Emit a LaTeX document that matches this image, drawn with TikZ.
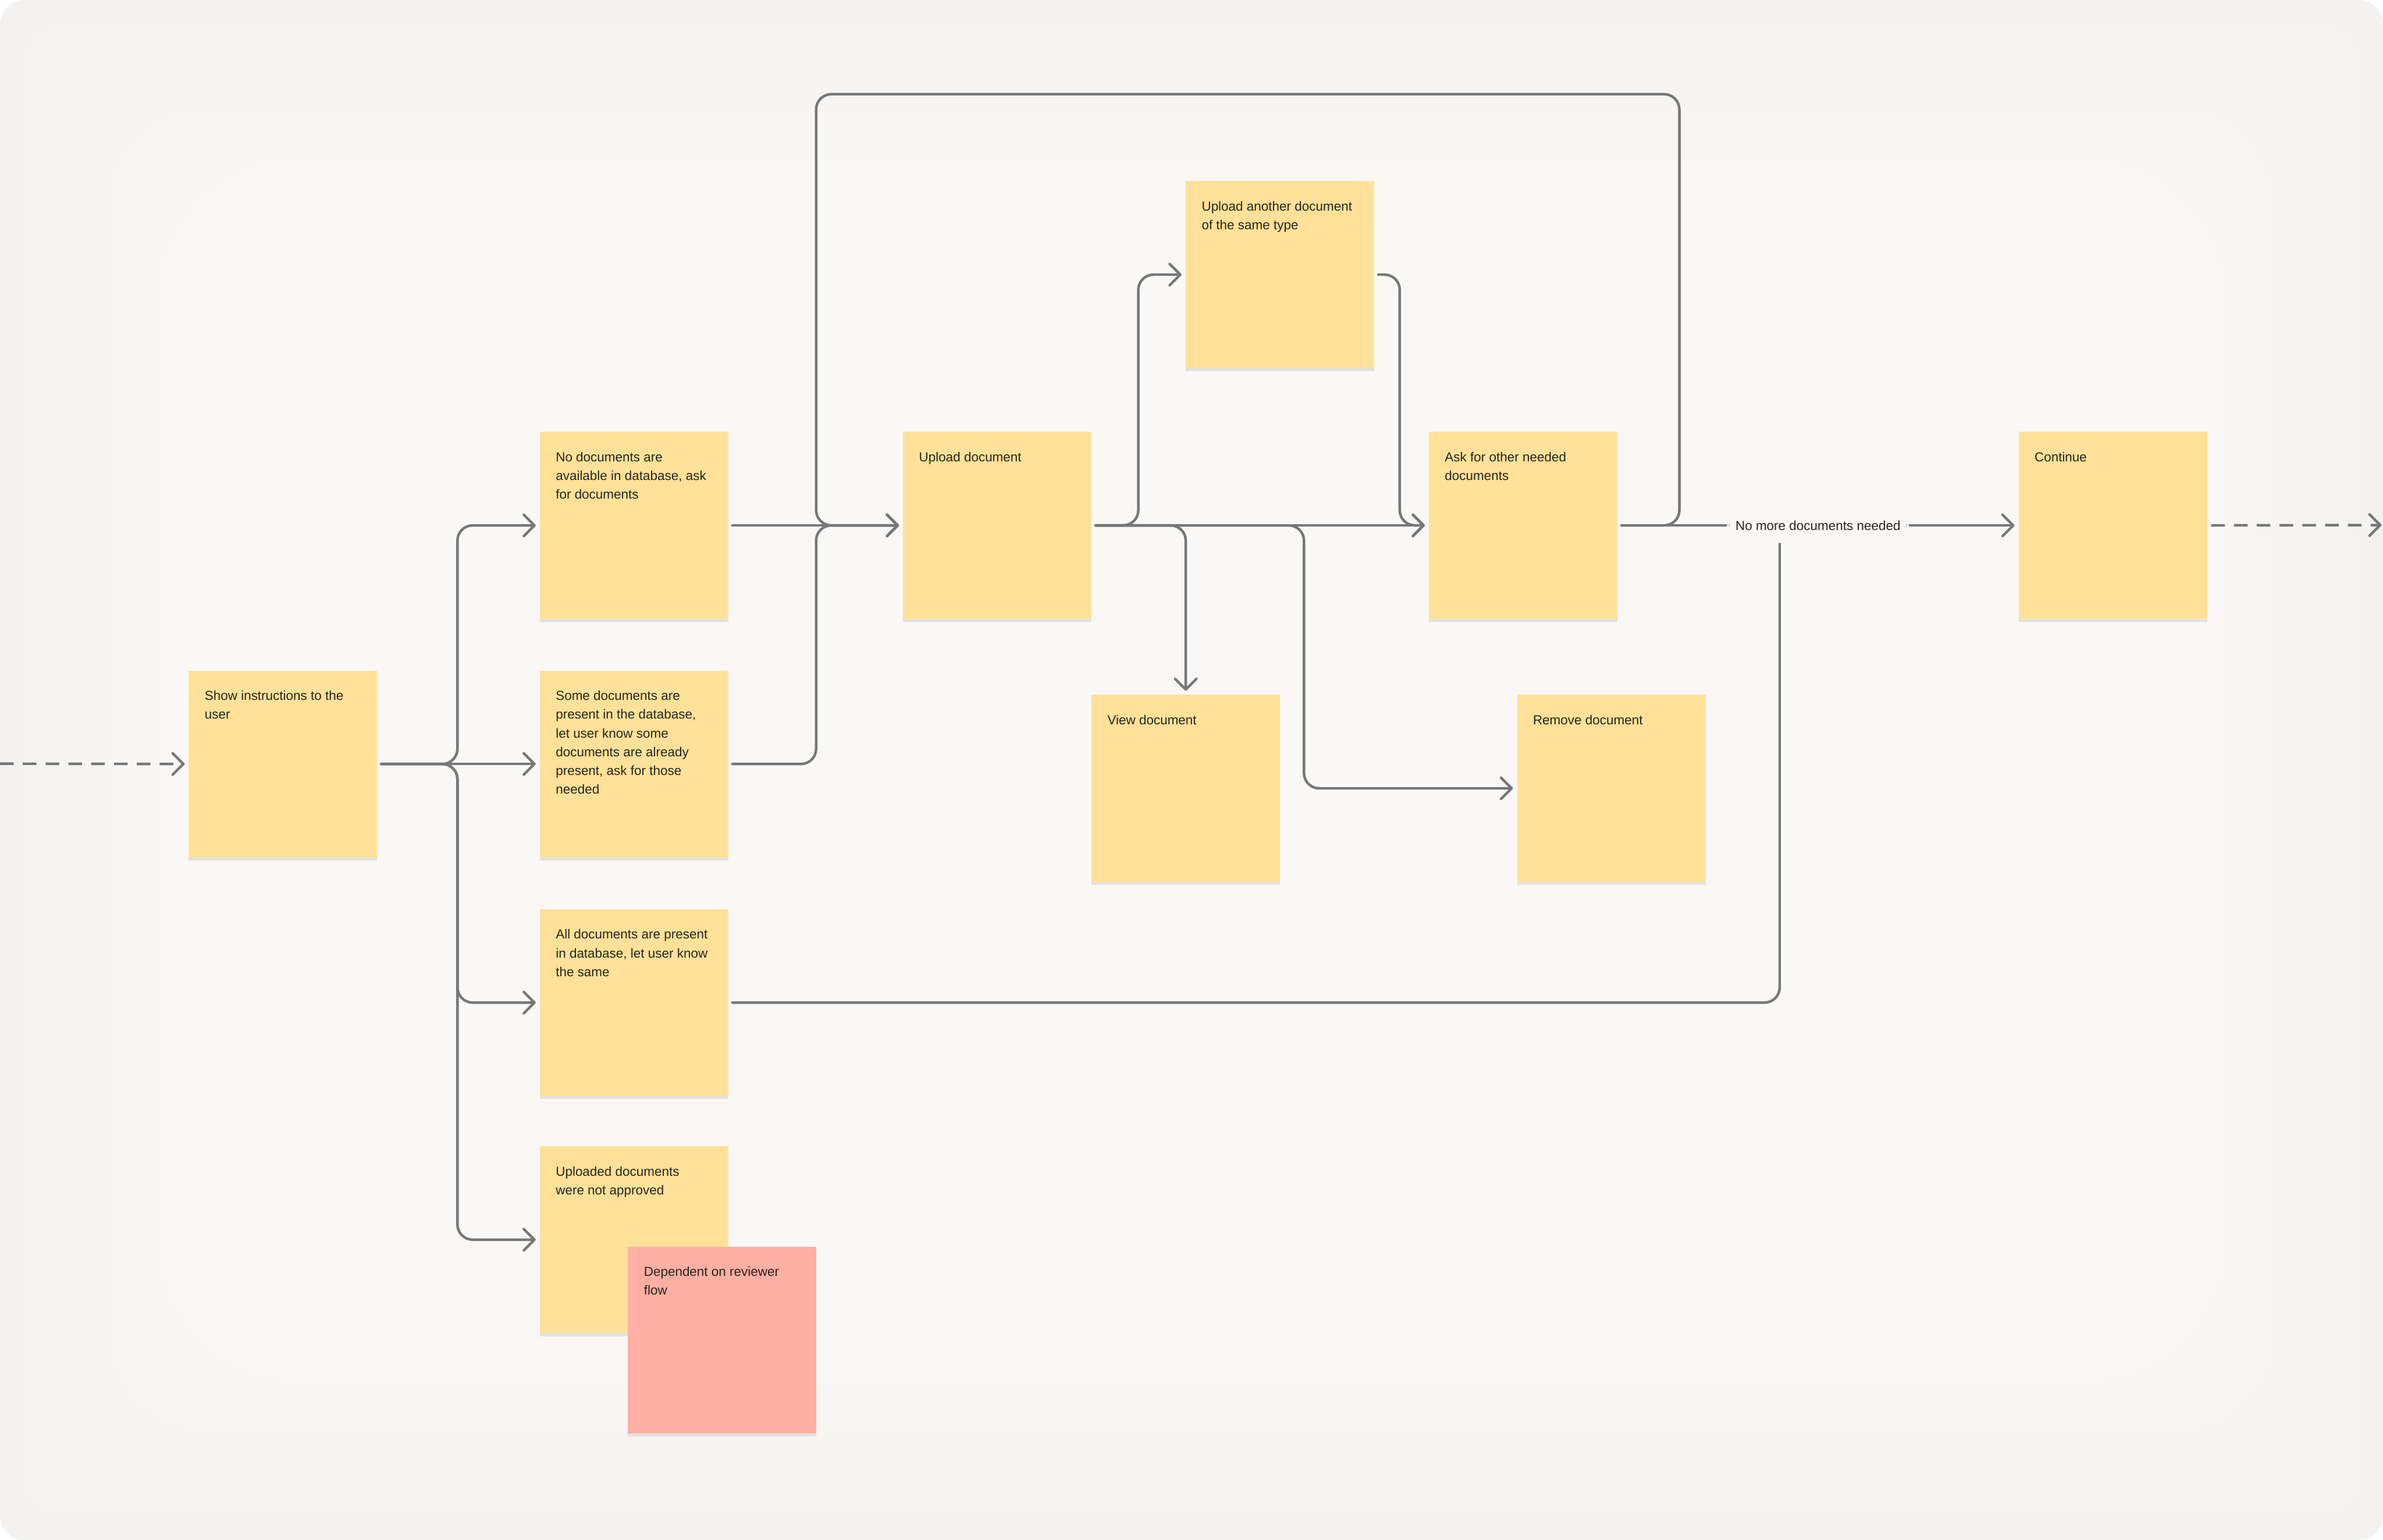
\documentclass[tikz,border=0pt]{standalone}
\usepackage{fontspec}
\setmainfont{Liberation Sans}
\usetikzlibrary{arrows.meta,calc,shadows}
\definecolor{bgA}{HTML}{F3F2F0}
\definecolor{bgD}{HTML}{F9F8F6}
\definecolor{noteY}{HTML}{FFE199}
\definecolor{noteR}{HTML}{FFAFA3}
\definecolor{ink}{HTML}{26241E}
\definecolor{lc}{HTML}{777777}
\definecolor{shc}{HTML}{E4E2DE}
\newcommand{\stickytext}[1]{\parbox[t][101pt][t]{103pt}{\raggedright\strut #1}}
\begin{document}
\begin{tikzpicture}[x=1pt,y=-1pt,
  sticky/.style={rectangle, anchor=north west, fill=noteY, inner xsep=10.5pt, inner ysep=11pt,
    font=\fontsize{8.6}{12.3}\selectfont, text=ink, align=left,
    general shadow={fill=shc, shadow xshift=0pt, shadow yshift=-2pt}},
  pinknote/.style={sticky, fill=noteR},
  conn/.style={draw=lc, line width=1.7pt, rounded corners=10pt, line cap=round,
    shorten <=2.5pt, shorten >=2.5pt, -{Straight Barb[length=7pt,width=14pt,round]}},
  plainconn/.style={draw=lc, line width=1.7pt, rounded corners=10pt, line cap=round, shorten <=2.5pt},
  dashconn/.style={conn, line cap=butt, dash pattern=on 9pt off 6pt},
  lbl/.style={fill=bgD, inner xsep=5.5pt, inner ysep=2pt, text=ink, font=\fontsize{8.6}{10}\selectfont}
]
% background
\fill[white] (0,0) rectangle (1568,1013.3);
\useasboundingbox (0,0) rectangle (1568,1013.3);
\foreach \i in {0,...,16}{
  \pgfmathsetmacro{\ins}{\i*7}
  \pgfmathsetmacro{\rad}{16+\i*5}
  \pgfmathsetmacro{\mix}{100*\i/16}
  \fill[bgD!\mix!bgA, rounded corners=\rad pt] (\ins,\ins) rectangle (1568-\ins,1013.3-\ins);
}

% sticky notes
\node[sticky] (S)  at (124,441) {\stickytext{Show instructions to the\\user}};
\node[sticky] (N)  at (355,284) {\stickytext{No documents are\\available in database, ask\\for documents}};
\node[sticky] (SD) at (355,441) {\stickytext{Some documents are\\present in the database,\\let user know some\\documents are already\\present, ask for those\\needed}};
\node[sticky] (A)  at (355,598) {\stickytext{All documents are present\\in database, let user know\\the same}};
\node[sticky] (U)  at (355,754) {\stickytext{Uploaded documents\\were not approved}};
\node[pinknote] (D) at (413,820) {\stickytext{Dependent on reviewer\\flow}};
\node[sticky] (UD) at (594,284) {\stickytext{Upload document}};
\node[sticky] (UA) at (780,119) {\stickytext{Upload another document\\of the same type}};
\node[sticky] (V)  at (718,457) {\stickytext{View document}};
\node[sticky] (AO) at (940,284) {\stickytext{Ask for other needed\\documents}};
\node[sticky] (R)  at (998,457) {\stickytext{Remove document}};
\node[sticky] (C)  at (1328,284) {\stickytext{Continue}};

% helper coordinates
\coordinate (inL) at (0,502.5);
\coordinate (outR) at (1567,345.5);
\coordinate (tr) at (301,0);
\coordinate (j1) at (537,0);
\coordinate (loopTop) at (1105,62);
\coordinate (b1) at (749,0);
\coordinate (b2) at (858,0);
\coordinate (b3) at (921,0);
\coordinate (aEnd) at (1171,358);

% connectors
\draw[dashconn, shorten <=0pt] (inL) -- (S.west);
\draw[dashconn, shorten >=0pt] (C.east) -- (outR);

\draw[conn] (S.east) -| (tr |- N.west) -- (N.west);
\draw[conn] (S.east) -- (SD.west);
\draw[conn] (S.east) -| (tr |- A.west) -- (A.west);
\draw[conn] (S.east) -| (tr |- U.west) -- (U.west);

\draw[conn] (N.east) -- (UD.west);
\draw[conn] (SD.east) -| (j1 |- UD.west) -- (UD.west);
\draw[conn] (AO.east) -| (loopTop) -| (j1 |- UD.west) -- (UD.west);

\draw[conn] (UD.east) -| (b1 |- UA.west) -- (UA.west);
\draw[conn] (UD.east) -- (AO.west);
\draw[conn] (UD.east) -| (V.north);
\draw[conn] (UD.east) -| (b2 |- R.west) -- (R.west);
\draw[conn] (UA.east) -| (b3 |- AO.west) -- (AO.west);

\draw[conn] (AO.east) -- node[lbl] (lbl) {No more documents needed} (C.west);
\draw[plainconn] (A.east) -| (aEnd);
\end{tikzpicture}
\end{document}
